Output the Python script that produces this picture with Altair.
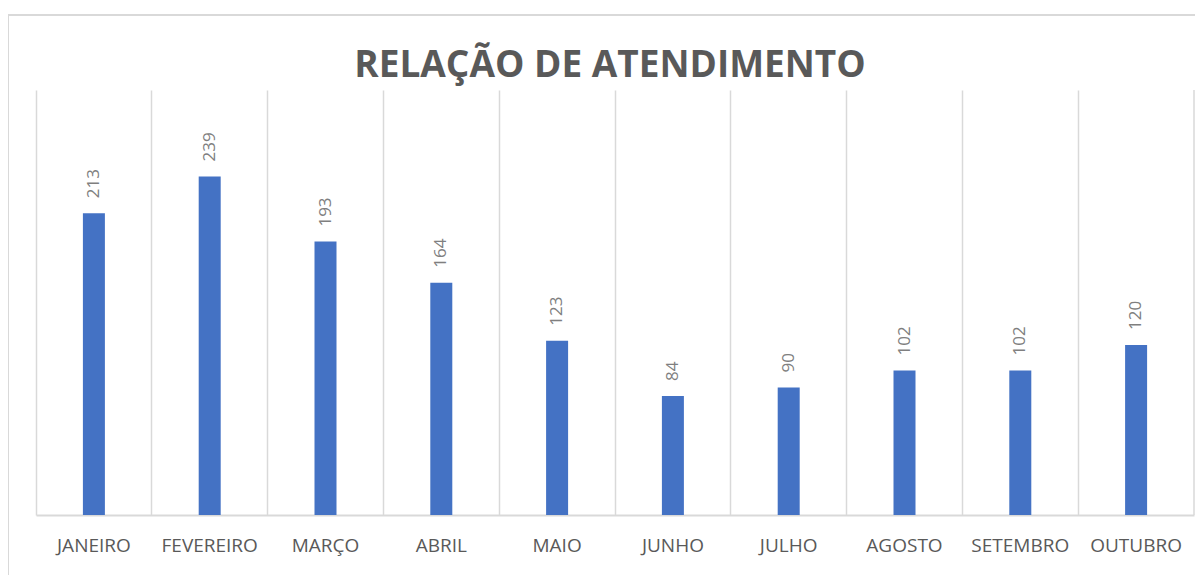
import altair as alt
import pandas as pd

meses = ["JANEIRO", "FEVEREIRO", "MARÇO", "ABRIL", "MAIO", "JUNHO", "JULHO", "AGOSTO", "SETEMBRO", "OUTUBRO"]
valores = [213, 239, 193, 164, 123, 84, 90, 102, 102, 120]
titulo = "RELAÇÃO DE ATENDIMENTO"

df = pd.DataFrame({"mes": meses, "valor": valores})

W, H = 1158, 425
GRID = "#d9d9d9"

x = alt.X("mes:N", sort=meses, title=None,
          scale=alt.Scale(paddingInner=0, paddingOuter=0),
          axis=alt.Axis(labelAngle=0, ticks=False, grid=True, bandPosition=0,
                        gridColor=GRID, gridWidth=1.5, domainColor=GRID, domainWidth=2,
                        labelColor="#595959", labelFont="Open Sans", labelFontSize=19,
                        labelPadding=21, labelOverlap=False, labelLimit=200))
y = alt.Y("valor:Q", title=None, scale=alt.Scale(domain=[0, 300]), axis=None)

base = alt.Chart(df)
bars = base.mark_bar(color="#4472C4", size=22).encode(x=x, y=y)
labels = base.mark_text(angle=270, align="left", baseline="middle", dx=15,
                        font="Open Sans", fontSize=17, color="#7f7f7f").encode(
    x=alt.X("mes:N", sort=meses), y="valor:Q", text="valor:Q")

edge_df = pd.DataFrame({"k": [0]})
right_line = alt.Chart(edge_df).mark_rule(color=GRID, strokeWidth=1.5).encode(
    x=alt.value(W), y=alt.value(0), y2=alt.value(H))
border_left = alt.Chart(edge_df).mark_rule(color=GRID, strokeWidth=2).encode(
    x=alt.value(-28), y=alt.value(-75), y2=alt.value(H + 100))
border_top = alt.Chart(edge_df).mark_rule(color=GRID, strokeWidth=2).encode(
    x=alt.value(-28), x2=alt.value(W + 8), y=alt.value(-75))
title_df = pd.DataFrame({"t": [titulo]})
title_mark = alt.Chart(title_df).mark_text(
    font="Open Sans", fontSize=37, fontWeight="bold", color="#595959",
    align="center", baseline="alphabetic").encode(
    x=alt.value(W / 2 - 5), y=alt.value(-13), text="t:N")

chart = alt.layer(border_left, border_top, right_line, bars, labels, title_mark).properties(
    width=W, height=H,
    autosize=alt.AutoSizeParams(type="none"),
    padding={"left": 28, "top": 82, "right": 1, "bottom": 60},
).configure_view(stroke=None)

chart.save("out.html", embed_options={"renderer": "svg", "actions": False})
